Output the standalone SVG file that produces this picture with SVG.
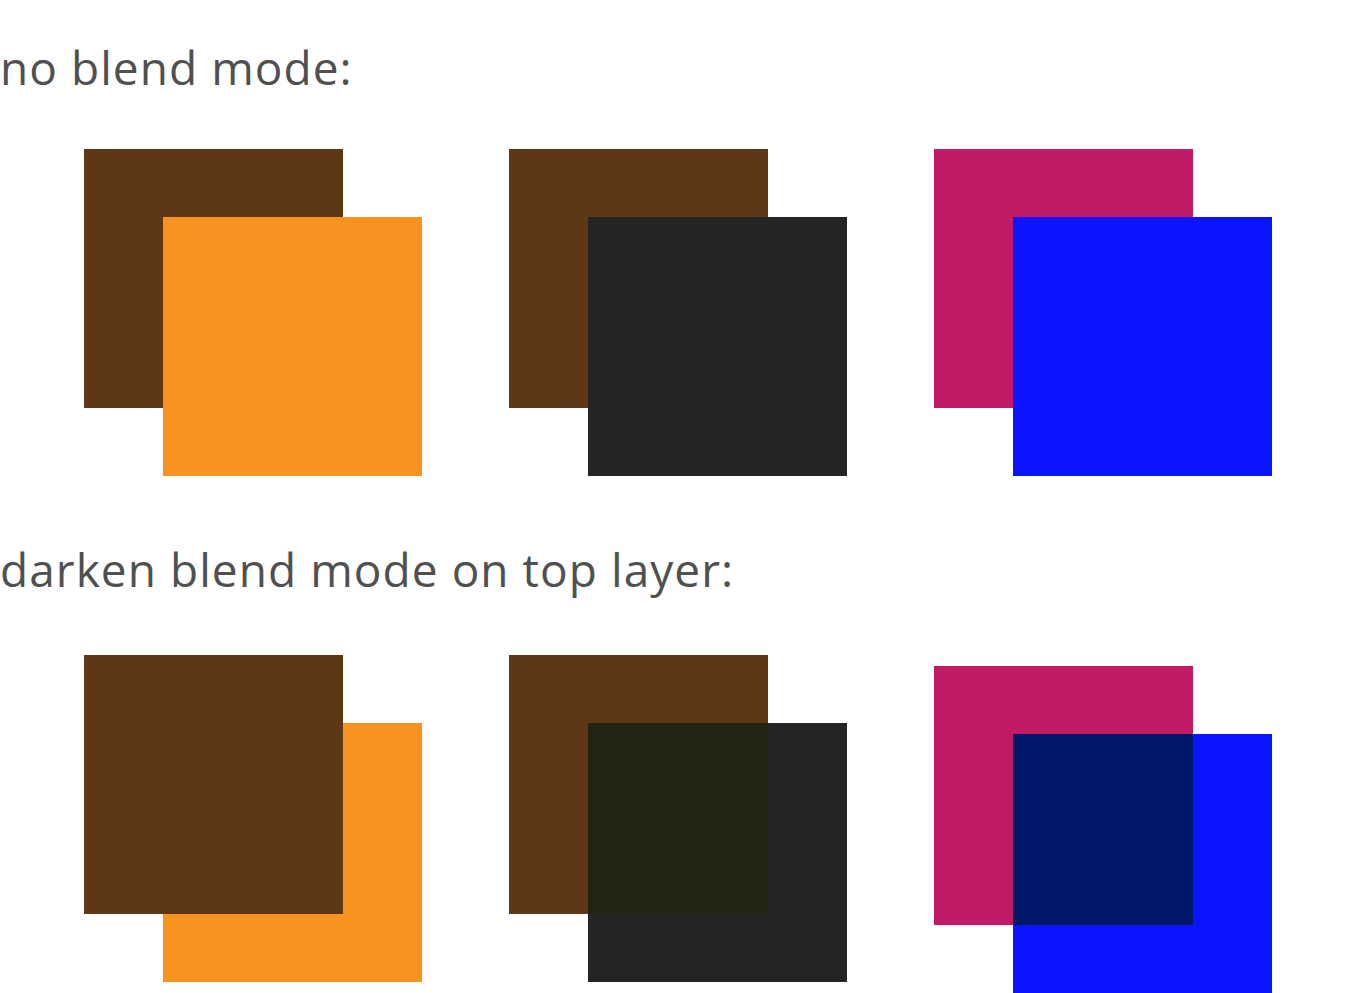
<svg xmlns="http://www.w3.org/2000/svg" width="1350" height="993" viewBox="0 0 1350 993">
<style>
.t{font-family:"Open Sans","Noto Sans",sans-serif;font-size:46px;fill:#505050;letter-spacing:1.05px}
.brown{fill:#5e3714}.orange{fill:#f7931e}.dark{fill:#242424}.pink{fill:#c21b66}.blue{fill:#0a14ff}
</style>
<rect width="1350" height="993" fill="#ffffff"/>
<g id="label-top"><text class="t" x="0" y="85">no blend mode:</text></g>
<g id="label-bottom"><text class="t" x="0" y="587">darken blend mode on top layer:</text></g>
<g id="set1-top"><rect class="brown" x="84" y="149" width="259" height="259"/><rect class="orange" x="163" y="217" width="259" height="259"/></g>
<g id="set2-top"><rect class="brown" x="509" y="149" width="259" height="259"/><rect class="dark" x="588" y="217" width="259" height="259"/></g>
<g id="set3-top"><rect class="pink" x="934" y="149" width="259" height="259"/><rect class="blue" x="1013" y="217" width="259" height="259"/></g>
<g id="set1-bottom"><rect class="orange" x="163" y="723" width="259" height="259"/><rect class="brown" x="84" y="655" width="259" height="259"/></g>
<g id="set2-bottom"><rect class="brown" x="509" y="655" width="259" height="259"/><rect class="dark" x="588" y="723" width="259" height="259"/><rect fill="#242415" x="588" y="723" width="180" height="191"/></g>
<g id="set3-bottom"><rect class="pink" x="934" y="666" width="259" height="259"/><rect class="blue" x="1013" y="734" width="259" height="259"/><rect fill="#011868" x="1013" y="734" width="180" height="191"/></g>
</svg>
